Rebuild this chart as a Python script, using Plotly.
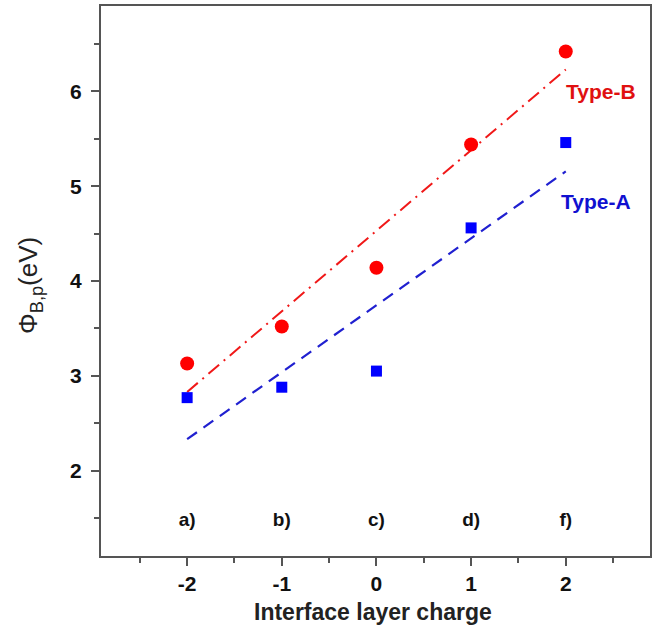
import numpy as np
import plotly.graph_objects as go

charge = [-2, -1, 0, 1, 2]
type_b = [3.13, 3.52, 4.14, 5.44, 6.42]
type_a = [2.77, 2.88, 3.05, 4.56, 5.46]
panel_labels = ["a)", "b)", "c)", "d)", "f)"]
x_ticks = [-2, -1, 0, 1, 2]
x_ticktext = ["-2", "-1", "0", "1", "2"]
y_ticks = [2, 3, 4, 5, 6]

RED = "#ff0000"
BLUE = "#0000ff"
FONT = "Liberation Sans"

xs = np.array(charge, dtype=float)
fit_b = np.polyval(np.polyfit(xs, type_b, 1), xs)
fit_a = np.polyval(np.polyfit(xs, type_a, 1), xs)

fig = go.Figure()
fig.add_trace(go.Scatter(x=charge, y=fit_b, mode="lines",
                         line=dict(color="#f01818", width=2, dash="14px,6px,2px,6px"), showlegend=False))
fig.add_trace(go.Scatter(x=charge, y=fit_a, mode="lines",
                         line=dict(color="#2020d0", width=2.2, dash="12px,8px"), showlegend=False))
fig.add_trace(go.Scatter(x=charge, y=type_b, mode="markers",
                         marker=dict(color=RED, size=14, symbol="circle"), showlegend=False))
fig.add_trace(go.Scatter(x=charge, y=type_a, mode="markers",
                         marker=dict(color=BLUE, size=11, symbol="square"), showlegend=False))

fig.add_trace(go.Scatter(x=charge, y=[1.47] * len(charge), mode="text", text=panel_labels,
                         textfont=dict(family=FONT, size=19, color="#111111", weight="bold"),
                         showlegend=False))

fig.add_annotation(x=2.37, y=6.0, text="<b>Type-B</b>", showarrow=False,
                   font=dict(family=FONT, size=21, color="#e01010"))
fig.add_annotation(x=2.32, y=4.84, text="<b>Type-A</b>", showarrow=False,
                   font=dict(family=FONT, size=21, color="#1010d0"))

# axis titles
fig.add_annotation(xref="paper", yref="paper", x=0.495, y=0, yshift=-56,
                   xanchor="center", yanchor="middle",
                   text="<b>Interface layer charge</b>", showarrow=False,
                   font=dict(family=FONT, size=23, color="#222222"))
fig.add_annotation(xref="paper", yref="paper", x=0, xshift=-71, y=0.491,
                   xanchor="center", yanchor="middle",
                   text="Φ<sub>B,p</sub>(eV)", textangle=-90, showarrow=False,
                   font=dict(family=FONT, size=26, color="#222222"))

axis_common = dict(showline=True, linecolor="#555555", linewidth=2, mirror=True,
                   ticks="outside", tickcolor="#555555", ticklen=8, tickwidth=1.5,
                   showgrid=False, zeroline=False, automargin=False,
                   tickfont=dict(family=FONT, size=21, color="#111111", weight="bold"))

fig.update_xaxes(range=[-2.91, 2.89], tickvals=x_ticks, ticktext=x_ticktext,
                 minor=dict(dtick=0.5, ticks="outside", ticklen=5, tickcolor="#555555", tickwidth=1.5, tick0=0.5),
                 **axis_common)
fig.update_yaxes(range=[1.1, 6.9], tickvals=y_ticks, ticklabelstandoff=5,
                 minor=dict(dtick=0.5, ticks="outside", ticklen=5, tickcolor="#555555", tickwidth=1.5, tick0=0.5),
                 **axis_common)

fig.update_layout(width=653, height=627, margin=dict(l=101, r=3, t=6, b=71),
                  plot_bgcolor="white", paper_bgcolor="white")

fig.write_html("out.html", config={"displayModeBar": False},
               post_script="document.body.style.margin='0';")
